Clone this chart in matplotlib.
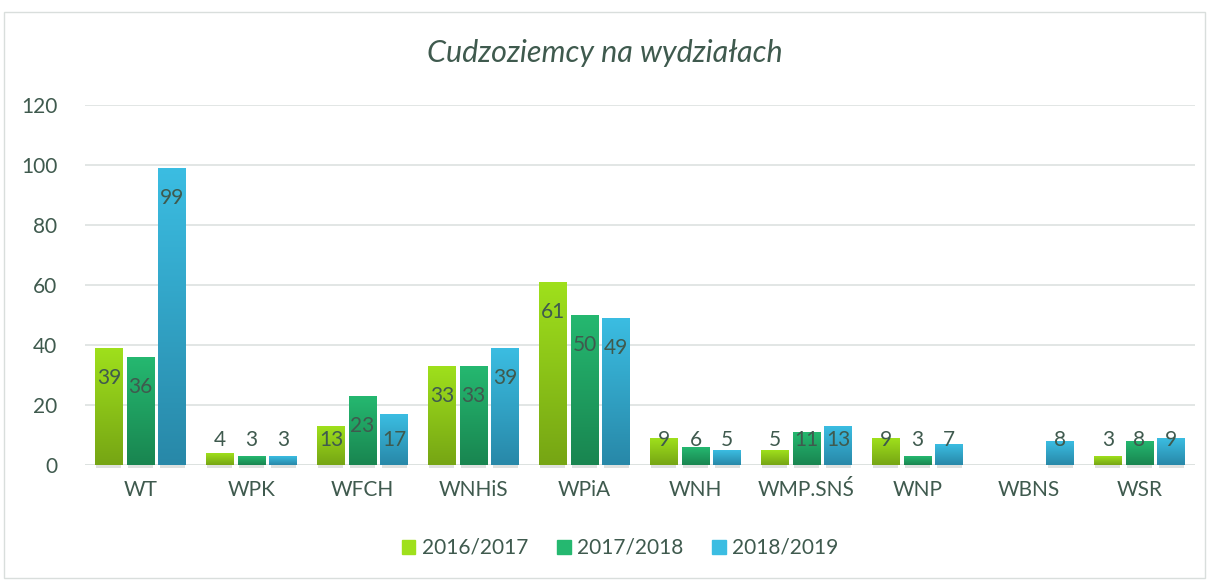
import numpy as np
import matplotlib.pyplot as plt
from matplotlib.colors import LinearSegmentedColormap
from matplotlib.patches import Rectangle

categories = ["WT", "WPK", "WFCH", "WNHiS", "WPiA", "WNH", "WMP.SNŚ", "WNP", "WBNS", "WSR"]
series = ["2016/2017", "2017/2018", "2018/2019"]
v2016 = [39, 4, 13, 33, 61, 9, 5, 9, 0, 3]
v2017 = [36, 3, 23, 33, 50, 6, 11, 3, 0, 8]
v2018 = [99, 3, 17, 39, 49, 5, 13, 7, 8, 9]
values = [v2016, v2017, v2018]

# gradient colours (top, bottom)
grads = [("#9fe01c", "#76a514"), ("#25b870", "#198550"), ("#3bbde2", "#2888a8")]
TXT = "#3f5a4e"
FONT = ["Lato", "DejaVu Sans"]
plt.rcParams["font.family"] = FONT

fig = plt.figure(figsize=(12.09, 5.8), dpi=100)
fig.patches.append(Rectangle((4 / 1209, 1 - 578 / 580), 1201 / 1209, 566 / 580,
                             transform=fig.transFigure, fill=False, ec="#d9dedc", lw=1))
ax = fig.add_axes([85 / 1209, 115 / 580, 1110 / 1209, 360 / 580])

x = np.arange(len(categories))
width = 0.245
step = 0.284
grad_img = np.linspace(1, 0, 256).reshape(-1, 1)

for i, (vals, (top, bot)) in enumerate(zip(values, grads)):
    cmap = LinearSegmentedColormap.from_list(f"g{i}", [bot, top])
    xs = x + (i - 1) * step
    bars = ax.bar(xs, vals, width, color=top, edgecolor="none", zorder=2)
    for b, v in zip(bars, vals):
        if v <= 0:
            continue
        x0 = b.get_x()
        # soft shadow under bar
        ax.add_patch(Rectangle((x0 + 0.01, -0.9), width - 0.02, 0.9,
                               color="#c8cdcb", alpha=0.6, lw=0, zorder=1, clip_on=False))
        im = ax.imshow(grad_img, cmap=cmap, aspect="auto", extent=(x0, x0 + width, 0, v),
                       vmin=0, vmax=1, zorder=3)
        im.set_clip_path(b)
        ly = max(v - 10, 8.5)
        ax.text(b.get_x() + width / 2, ly, str(v), ha="center", va="center",
                fontsize=15, color=TXT, zorder=4)

ax.set_xlim(-0.5, len(categories) - 0.5)
ax.set_ylim(0, 120)
ax.set_yticks(range(0, 121, 20))
ax.set_xticks(x)
ax.set_xticklabels(categories)
ax.tick_params(axis="both", length=0, labelsize=15, labelcolor=TXT)
ax.tick_params(axis="y", pad=20)
ax.tick_params(axis="x", pad=11)
ax.grid(axis="y", color="#dde2e0", lw=1.2, zorder=0)
ax.set_axisbelow(True)
for s in ax.spines.values():
    s.set_visible(False)
ax.axhline(0, color="#dde2e0", lw=1.2, zorder=1)

fig.text(0.5, 1 - 53 / 580, "Cudzoziemcy na wydziałach", ha="center", va="center",
         fontsize=22, style="italic", color=TXT)

handles = [Rectangle((0, 0), 1, 1, color=c[0]) for c in grads]
leg = fig.legend(handles, series, loc="center", bbox_to_anchor=(620 / 1209, 1 - 548 / 580),
                 ncol=3, frameon=False, fontsize=15, handlelength=0.65, handleheight=0.65,
                 handletextpad=0.3, columnspacing=1.4)
for t in leg.get_texts():
    t.set_color(TXT)

fig.savefig("out.png", dpi=100)
